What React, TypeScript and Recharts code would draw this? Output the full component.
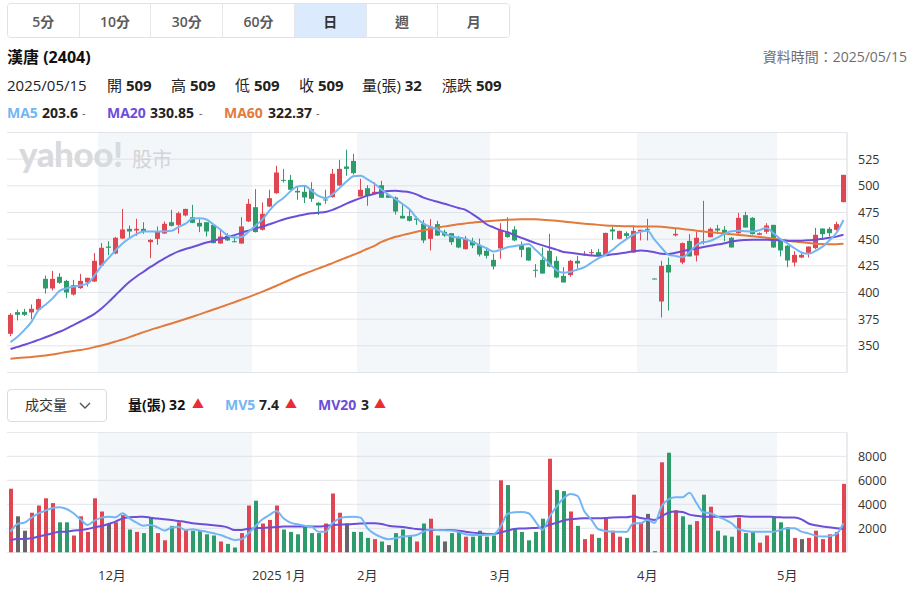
import {
  Bar,
  CartesianGrid,
  Cell,
  ComposedChart,
  Line,
  ReferenceArea,
  XAxis,
  YAxis,
} from "recharts";

const RED = "#e04652";
const GREEN = "#2e9c6a";
const FLAT = "#666666";
const MA5_COLOR = "#74b6f3";
const MA20_COLOR = "#6c4ed9";
const MA60_COLOR = "#e27a3c";
const GRID = "#e3e5ea";
const FONT = '"Open Sans", "Noto Sans CJK TC", sans-serif';

// trading days per month
const tradingMonths: [string, number[]][] = [
  ["2024-11", [13, 14, 15, 18, 19, 20, 21, 22, 25, 26, 27, 28, 29]],
  ["2024-12", [2, 3, 4, 5, 6, 9, 10, 11, 12, 13, 16, 17, 18, 19, 20, 23, 24, 25, 26, 27, 30, 31]],
  ["2025-01", [2, 3, 6, 7, 8, 9, 10, 13, 14, 15, 16, 17, 20, 21, 22]],
  ["2025-02", [3, 4, 5, 6, 7, 10, 11, 12, 13, 14, 17, 18, 19, 20, 21, 24, 25, 26, 27]],
  ["2025-03", [3, 4, 5, 6, 7, 10, 11, 12, 13, 14, 17, 18, 19, 20, 21, 24, 25, 26, 27, 28, 31]],
  ["2025-04", [1, 2, 7, 8, 9, 10, 11, 14, 15, 16, 17, 18, 21, 22, 23, 24, 25, 28, 29, 30]],
  ["2025-05", [2, 5, 6, 7, 8, 9, 12, 13, 14, 15]],
];
const monthLabels: Record<string, string> = {
  "2024-12": "12月",
  "2025-01": "2025 1月",
  "2025-02": "2月",
  "2025-03": "3月",
  "2025-04": "4月",
  "2025-05": "5月",
};
const shadedMonths = ["2024-12", "2025-02", "2025-04"];

const opens = [361.3,381.6,381.9,381.3,383.8,412.8,403.8,414.7,410.9,398.1,
404.1,409.4,410.3,425.3,443.1,436.6,450.6,459.7,458.1,459.7,
447.2,450.3,455.3,465.9,463.4,472.2,470.6,465.3,465.9,463.4,
445.9,453.1,448.1,445.9,466.6,480.0,458.8,480.6,493.1,505.6,
505.6,495.3,494.4,496.9,484.1,487.2,489.4,500.3,518.1,523.4,
490.0,497.8,492.8,500.6,491.3,489.1,471.9,471.6,469.4,464.4,
450.3,464.1,456.9,455.6,451.6,440.6,448.4,444.4,439.1,430.6,
441.3,456.9,459.1,444.7,442.2,421.3,430.6,439.1,429.7,415.6,
416.3,429.7,435.0,437.2,437.8,435.3,459.1,450.3,455.6,437.5,
457.2,459.7,413.1,391.6,425.9,453.5,428.1,448.4,434.7,447.0,
451.9,460.0,458.8,451.3,455.6,472.5,470.0,454.1,456.9,463.4,
448.4,443.8,428.1,432.8,437.2,441.6,460.0,459.7,458.8,484.7];

const highs = [380.6,383.8,384.7,388.8,394.4,415.9,420.3,418.1,411.9,411.9,
417.5,413.8,436.9,446.3,448.1,452.2,478.4,462.8,469.1,465.9,
450.0,461.9,466.6,477.5,475.9,478.4,482.2,468.8,466.0,463.5,
459.4,455.6,452.5,470.6,487.8,496.9,484.4,496.3,518.8,515.9,
510.3,500.0,500.3,503.4,484.7,496.3,515.9,524.4,533.8,530.0,
506.6,500.6,503.4,504.7,492.5,490.0,482.5,477.5,471.3,468.1,
468.8,467.2,458.8,455.7,453.1,453.1,451.3,450.6,441.6,436.3,
465.0,470.6,462.2,447.8,442.3,426.6,442.2,455.0,433.8,423.8,
430.6,434.4,438.8,440.6,440.9,456.0,461.9,457.9,457.2,462.8,
458.8,469.1,413.4,429.7,432.8,459.5,446.9,454.7,457.2,486.0,
460.9,463.4,462.2,451.9,474.7,475.6,470.6,456.3,465.0,463.5,
448.5,444.4,438.8,437.8,443.2,460.6,460.1,461.3,466.3,510.3];

const lows = [359.0,373.8,378.0,375.0,383.1,399.0,401.9,408.1,394.7,397.2,
403.4,405.6,409.7,424.7,435.0,435.9,450.3,451.6,453.1,455.0,
432.2,444.7,455.0,461.9,455.3,471.3,465.0,456.6,452.5,446.0,
445.8,448.4,447.0,445.8,466.0,456.3,458.1,480.0,492.5,503.1,
496.0,486.9,483.8,485.0,472.8,483.1,489.0,500.0,509.4,510.6,
490.0,481.3,492.5,488.8,488.8,473.1,469.4,466.6,463.4,446.3,
439.4,453.1,452.2,444.7,441.6,440.3,441.6,433.8,431.9,421.6,
431.6,451.3,448.1,433.1,429.7,414.1,417.5,423.8,413.4,409.4,
414.7,422.5,434.4,434.4,433.8,435.0,449.4,450.0,450.0,437.0,
448.8,448.8,412.5,376.6,383.1,452.5,426.6,433.8,429.1,445.0,
451.6,455.0,448.1,442.2,455.0,460.9,454.4,454.0,455.0,441.9,
433.8,423.8,424.4,432.2,432.8,440.6,449.4,452.5,458.1,484.7];

const closes = [379.1,379.1,379.1,384.7,393.8,403.8,412.8,409.1,400.0,406.9,
410.9,413.8,429.7,441.9,441.9,451.3,459.1,457.2,459.7,456.9,
449.4,457.5,464.4,462.5,474.4,478.4,465.3,461.9,457.2,446.3,
452.5,448.8,447.2,461.9,483.1,456.6,473.8,488.4,512.5,504.7,
496.3,493.8,489.1,487.8,481.6,486.3,511.3,515.9,515.9,511.9,
496.3,490.6,494.4,488.8,488.8,475.9,469.4,467.2,468.1,448.8,
461.9,453.4,453.4,447.2,442.2,450.6,444.1,435.6,434.4,424.4,
458.8,451.9,448.8,440.0,430.0,420.6,417.8,424.4,414.1,409.4,
429.7,427.2,436.3,437.8,434.7,455.9,457.2,457.8,453.1,457.8,
458.8,458.8,412.8,425.0,418.8,455.0,446.3,433.8,451.3,448.0,
459.7,458.1,455.0,442.2,470.0,460.9,454.7,455.6,462.8,442.2,
439.4,430.0,435.3,435.3,443.1,454.1,454.7,455.6,464.1,510.3];

const ma5 = [353.5,358.5,365.0,372.5,383.5,388.5,394.5,401.5,404.0,405.5,
406.8,408.3,416.0,425.0,432.2,439.5,446.0,451.0,454.8,457.2,
457.2,457.2,457.4,457.8,461.5,464.5,469.3,469.5,468.4,463.8,
459.0,453.5,451.5,452.0,457.0,462.5,468.5,477.0,484.0,488.5,
495.0,499.4,500.0,495.5,490.5,488.4,492.0,498.0,504.0,509.0,
509.5,506.0,502.0,496.5,491.5,487.5,483.0,478.0,470.0,464.5,
461.5,459.0,455.5,452.5,451.5,450.0,447.5,444.5,441.5,438.4,
440.0,442.5,443.5,444.5,445.5,440.0,433.8,427.0,421.0,418.5,
419.5,421.5,423.7,428.0,432.0,435.3,440.0,445.5,450.0,454.3,
457.0,457.8,449.5,442.0,435.3,434.3,433.1,438.0,444.5,447.0,
448.5,451.5,455.0,457.5,457.8,457.4,457.2,458.5,460.5,455.5,
450.0,446.0,441.5,437.5,436.3,439.0,443.0,449.0,456.0,468.0];

const ma20 = [347.0,349.0,351.0,353.2,355.6,358.0,360.5,363.2,366.2,369.5,
372.8,376.2,380.0,385.0,391.0,397.5,404.0,410.0,415.0,419.5,
424.0,428.0,432.0,435.5,438.5,440.8,442.6,444.8,446.8,448.6,
450.2,452.0,453.8,456.0,458.0,460.0,461.8,464.0,466.2,468.5,
470.3,471.8,473.2,474.2,474.8,475.5,477.5,480.3,483.3,486.0,
488.5,490.8,492.6,494.2,495.2,495.3,494.8,494.0,492.0,489.0,
486.8,485.0,483.2,481.2,479.2,477.5,473.5,469.0,464.0,461.0,
458.5,456.5,453.8,451.2,448.8,446.3,444.2,442.2,440.2,438.0,
437.2,436.3,435.5,434.8,434.4,434.8,435.8,436.6,437.6,438.6,
439.4,439.0,437.8,436.3,436.0,437.2,438.8,440.0,441.3,442.6,
443.8,444.9,446.2,447.8,448.8,449.2,449.4,449.4,449.4,449.2,
448.9,448.6,448.4,448.6,449.0,449.5,450.4,451.3,452.4,454.1];

const ma60 = [338.0,338.5,339.1,339.6,340.3,341.0,341.8,343.0,344.2,345.2,
346.0,347.3,348.8,350.3,352.0,354.0,356.0,358.2,360.5,362.8,
365.0,367.0,369.0,371.0,373.0,375.1,377.3,379.5,381.8,384.0,
386.3,388.6,390.9,393.3,395.7,398.2,400.8,403.5,406.3,409.2,
412.2,415.0,417.6,420.1,422.6,425.0,427.6,430.2,432.8,435.4,
438.0,441.0,443.8,447.5,450.0,452.2,453.8,455.4,456.9,458.3,
459.6,460.8,462.0,463.0,464.0,464.8,465.5,466.2,466.8,467.3,
467.7,468.1,468.4,468.6,468.7,468.6,468.3,467.8,467.2,466.5,
465.8,465.1,464.5,464.0,463.4,462.9,462.5,462.3,462.1,462.0,
461.9,461.9,461.8,461.6,461.0,460.3,459.5,458.8,458.0,457.2,
456.5,455.9,455.3,454.7,454.0,453.4,452.7,452.0,451.4,450.6,
449.5,448.6,447.7,447.0,446.3,445.8,445.4,445.2,445.3,445.6];

const volumes = [5300,3000,1800,3300,3900,4500,4100,2500,2500,1400,
3000,1700,4500,3400,2400,2500,3100,1900,1700,1600,
2900,1600,1000,2200,2500,1900,1800,1800,1500,1400,
900,700,400,1600,3900,4300,2400,2700,3900,1900,
1700,1500,2200,1600,1600,2400,4900,3300,2400,1700,
1700,1200,1100,900,600,1600,1900,1400,900,2400,
2800,1400,900,1600,1700,1300,1300,1800,1300,1400,
6000,5600,2000,1700,1000,1700,2800,7800,5200,5100,
3400,2200,1100,1500,1200,2800,1800,1300,1200,4800,
2500,3200,100,7500,8300,3500,3000,2300,2600,4800,
3800,1800,1400,1300,2900,1600,1700,800,1400,2900,
2500,2100,1200,1100,1200,1800,1100,1500,1700,5700];

const mv5 = [1720,2360,2470,2890,3250,3470,3690,3750,3610,3250,
2750,2280,2640,2890,2970,2920,3250,2830,2470,2220,
2280,2080,1810,2060,2110,1860,1920,1810,1720,1580,
1440,1220,1030,1080,1580,2190,2750,3110,3440,2830,
2470,2330,2220,2140,1720,1720,2420,2830,2940,2970,
2890,2000,1530,1250,1080,1170,1310,1360,1440,1720,
1920,1860,1830,1810,1700,1500,1440,1440,1460,1500,
2140,3190,3330,3360,3250,2560,1860,2970,3800,4500,
4860,4700,3390,2700,1920,1780,1720,1720,1700,2420,
2420,2690,2450,3810,4420,4580,4580,4970,4100,3330,
3250,2970,2750,2420,1920,1780,1720,1720,1720,1720,
1860,2000,2000,1720,1580,1390,1310,1340,1530,2420];

const mv20 = [1030,1110,1110,1170,1310,1440,1580,1720,1720,1810,
1860,1940,2080,2190,2360,2560,2830,2920,2940,2970,
2890,2810,2750,2690,2610,2530,2420,2360,2310,2250,
2190,2080,1860,1860,1970,2000,2030,2060,2110,2140,
2140,2140,2140,2140,2140,2190,2280,2310,2330,2360,
2390,2420,2420,2360,2220,2140,2110,2030,1940,1890,
1860,1860,1860,1860,1800,1720,1640,1580,1530,1530,
1650,1800,1950,1980,2000,2030,2060,2300,2450,2650,
2750,2800,2830,2830,2830,2850,2900,2920,2920,3000,
2850,2780,2700,3000,3300,3390,3350,3140,3050,2970,
2970,2970,2970,2990,3030,2990,2970,2970,2970,2940,
2920,2890,2890,2750,2400,2250,2150,2080,2000,1940];

const priceTicks = [325, 350, 375, 400, 425, 450, 475, 500, 525, 550];
const volumeTicks = [0, 2000, 4000, 6000, 8000, 10000];

const dates = tradingMonths.flatMap(([ym, days]) =>
  days.map((d) => `${ym}-${String(d).padStart(2, "0")}`)
);

const rows = dates.map((date, i) => ({
  date,
  open: opens[i],
  high: highs[i],
  low: lows[i],
  close: closes[i],
  ma5: ma5[i],
  ma20: ma20[i],
  ma60: ma60[i],
  volume: volumes[i],
  mv5: mv5[i],
  mv20: mv20[i],
  // volume colour follows the change against the previous close
  change: i === 0 ? 1 : Math.sign(closes[i] - closes[i - 1]),
}));

const monthStarts = tradingMonths
  .filter(([ym]) => monthLabels[ym])
  .map(([ym, days]) => `${ym}-${String(days[0]).padStart(2, "0")}`);

const bands = shadedMonths.map((ym) => {
  const days = dates.filter((d) => d.startsWith(ym));
  return [days[0], days[days.length - 1]];
});

function Candle(props: any) {
  const { x, y, width, height, payload } = props;
  if (x == null || !payload) return null;
  const { open, close, high, low } = payload;
  const color = close >= open ? RED : GREEN;
  const ratio = height / (high - low);
  const cx = x + width / 2;
  const top = y + (high - Math.max(open, close)) * ratio;
  const bottom = y + (high - Math.min(open, close)) * ratio;
  return (
    <g>
      <line x1={cx} x2={cx} y1={y} y2={y + height} stroke={color} strokeWidth={1} />
      <rect x={x} y={top} width={width} height={Math.max(bottom - top, 1)} fill={color} />
    </g>
  );
}

function MonthTick(props: any) {
  const { x, y, payload } = props;
  const label = monthLabels[String(payload.value).slice(0, 7)];
  return (
    <text x={x - 3.5} y={y + 15} textAnchor="start" dominantBaseline="central" fontSize={13} fill="#333" fontFamily={FONT}>
      {label}
    </text>
  );
}

const axisTick = { fontSize: 12.5, fill: "#333", fontFamily: FONT };

function Txt({ x, cy, size = 15, weight = 400, color = "#222", children }: any) {
  return (
    <span
      style={{
        position: "absolute",
        left: x,
        top: cy - 10,
        lineHeight: "20px",
        fontSize: size,
        fontWeight: weight,
        color,
        whiteSpace: "nowrap",
      }}
    >
      {children}
    </span>
  );
}

const tabs = ["5分", "10分", "30分", "60分", "日", "週", "月"];

function Tabs() {
  return (
    <div
      style={{
        position: "absolute",
        left: 7,
        top: 3,
        width: 503,
        height: 35,
        border: "1px solid #dfe2e6",
        borderRadius: 4,
        display: "flex",
        overflow: "hidden",
        boxSizing: "border-box",
      }}
    >
      {tabs.map((t, i) => (
        <div
          key={t}
          style={{
            flex: 1,
            display: "flex",
            alignItems: "center",
            justifyContent: "center",
            fontSize: 14,
            fontWeight: 600,
            color: t === "日" ? "#333" : "#5b5b5b",
            background: t === "日" ? "#dbeafc" : "#fff",
            borderLeft: i === 0 ? "none" : "1px solid #e4e6ea",
          }}
        >
          {t}
        </div>
      ))}
    </div>
  );
}

function Up({ x, cy }: any) {
  return <Txt x={x} cy={cy} size={12} color="#ee2b35">▲</Txt>;
}

export default function App() {
  return (
    <div
      style={{
        position: "absolute",
        left: 0,
        top: 0,
        width: 920,
        height: 602,
        background: "#fff",
        fontFamily: FONT,
        color: "#222",
        overflow: "hidden",
      }}
    >
      <Tabs />

      <Txt x={7} cy={57} size={16} weight={700} color="#111">漢唐 (2404)</Txt>
      <span style={{ position: "absolute", right: 13, top: 47, lineHeight: "20px", fontSize: 14, color: "#6e6e6e" }}>
        資料時間：2025/05/15
      </span>

      <Txt x={7} cy={85}>2025/05/15</Txt>
      <Txt x={107} cy={85}>開 <b>509</b></Txt>
      <Txt x={171} cy={85}>高 <b>509</b></Txt>
      <Txt x={235} cy={85}>低 <b>509</b></Txt>
      <Txt x={299} cy={85}>收 <b>509</b></Txt>
      <Txt x={362} cy={85}>量(張) <b>32</b></Txt>
      <Txt x={442} cy={85}>漲跌 <b>509</b></Txt>

      <Txt x={7} cy={113} size={14} weight={700} color={MA5_COLOR}>MA5</Txt>
      <Txt x={42} cy={113} size={14} weight={700}>203.6</Txt>
      <Txt x={82} cy={113} size={11} color="#555">-</Txt>
      <Txt x={107} cy={113} size={14} weight={700} color={MA20_COLOR}>MA20</Txt>
      <Txt x={150} cy={113} size={14} weight={700}>330.85</Txt>
      <Txt x={199} cy={113} size={11} color="#555">-</Txt>
      <Txt x={224} cy={113} size={14} weight={700} color={MA60_COLOR}>MA60</Txt>
      <Txt x={268} cy={113} size={14} weight={700}>322.37</Txt>
      <Txt x={316} cy={113} size={11} color="#555">-</Txt>

      <div style={{ position: "absolute", left: 0, top: 132 }}>
        <ComposedChart
          width={920}
          height={241}
          data={rows}
          margin={{ top: 0.5, right: 0, bottom: 0.5, left: 7 }}
        >
          {bands.map(([a, b]) => (
            <ReferenceArea key={a} x1={a} x2={b} fill="#cbd9e8" fillOpacity={0.22} stroke="none" />
          ))}
          <CartesianGrid vertical={false} stroke={GRID} />
          <XAxis dataKey="date" hide />
          <YAxis
            orientation="right"
            width={73}
            domain={[325, 550]}
            ticks={priceTicks}
            tickFormatter={(v: number) => (v === 325 || v === 550 ? "" : String(v))}
            tickLine={false}
            tickMargin={5}
            axisLine={{ stroke: GRID, strokeWidth: 1.5 }}
            tick={axisTick}
          />
          <Bar
            dataKey={(d: any) => [d.low, d.high]}
            barSize={5}
            shape={<Candle />}
            isAnimationActive={false}
          />
          <Line type="monotone" dataKey="ma60" stroke={MA60_COLOR} strokeWidth={2} dot={false} activeDot={false} isAnimationActive={false} />
          <Line type="monotone" dataKey="ma20" stroke={MA20_COLOR} strokeWidth={2} dot={false} activeDot={false} isAnimationActive={false} />
          <Line type="monotone" dataKey="ma5" stroke={MA5_COLOR} strokeWidth={2} dot={false} activeDot={false} isAnimationActive={false} />
        </ComposedChart>
      </div>

      <svg style={{ position: "absolute", left: 0, top: 132, pointerEvents: "none" }} width={200} height={50}>
        <text x={19} y={35} fontFamily="Lato, 'DejaVu Sans', sans-serif" fontWeight={900} fontSize={35} fill="#d9dadd" letterSpacing={-0.5}>
          yahoo!
        </text>
        <text x={132} y={35} fontFamily={FONT} fontSize={20} fill="#d3d4d7">
          股市
        </text>
      </svg>

      <div
        style={{
          position: "absolute",
          left: 7,
          top: 389,
          width: 100,
          height: 33,
          border: "1px solid #d9dce1",
          borderRadius: 4,
          boxSizing: "border-box",
        }}
      >
        <span style={{ position: "absolute", left: 17, top: 5, lineHeight: "20px", fontSize: 14, color: "#333" }}>成交量</span>
        <svg style={{ position: "absolute", left: 71, top: 12 }} width={12} height={8}>
          <polyline points="1,1 6,6 11,1" fill="none" stroke="#555" strokeWidth={1.4} />
        </svg>
      </div>

      <Txt x={128} cy={405} size={14} weight={700} color="#111">量(張) 32</Txt>
      <Up x={192} cy={405} />
      <Txt x={225} cy={405} size={14} weight={700} color={MA5_COLOR}>MV5</Txt>
      <Txt x={259} cy={405} size={14} weight={700}>7.4</Txt>
      <Up x={285} cy={405} />
      <Txt x={318} cy={405} size={14} weight={700} color={MA20_COLOR}>MV20</Txt>
      <Txt x={361} cy={405} size={14} weight={700}>3</Txt>
      <Up x={374} cy={405} />

      <div style={{ position: "absolute", left: 0, top: 432 }}>
        <ComposedChart
          width={920}
          height={160.3}
          data={rows}
          margin={{ top: 0.3, right: 0, bottom: 0, left: 7 }}
        >
          {bands.map(([a, b]) => (
            <ReferenceArea key={a} x1={a} x2={b} fill="#cbd9e8" fillOpacity={0.22} stroke="none" />
          ))}
          <CartesianGrid vertical={false} stroke={GRID} />
          <XAxis
            dataKey="date"
            ticks={monthStarts}
            interval={0}
            tick={<MonthTick />}
            tickLine={false}
            axisLine={false}
            height={40}
          />
          <YAxis
            orientation="right"
            width={73}
            domain={[0, 10000]}
            ticks={volumeTicks}
            tickFormatter={(v: number) => (v === 0 || v === 10000 ? "" : String(v))}
            tickLine={false}
            tickMargin={5}
            axisLine={{ stroke: GRID, strokeWidth: 1.5 }}
            tick={axisTick}
          />
          <Bar dataKey="volume" barSize={4} isAnimationActive={false}>
            {rows.map((r) => (
              <Cell key={r.date} fill={r.change > 0 ? RED : r.change < 0 ? GREEN : FLAT} />
            ))}
          </Bar>
          <Line type="monotone" dataKey="mv20" stroke={MA20_COLOR} strokeWidth={2} dot={false} activeDot={false} isAnimationActive={false} />
          <Line type="monotone" dataKey="mv5" stroke={MA5_COLOR} strokeWidth={2} dot={false} activeDot={false} isAnimationActive={false} />
        </ComposedChart>
      </div>
    </div>
  );
}
